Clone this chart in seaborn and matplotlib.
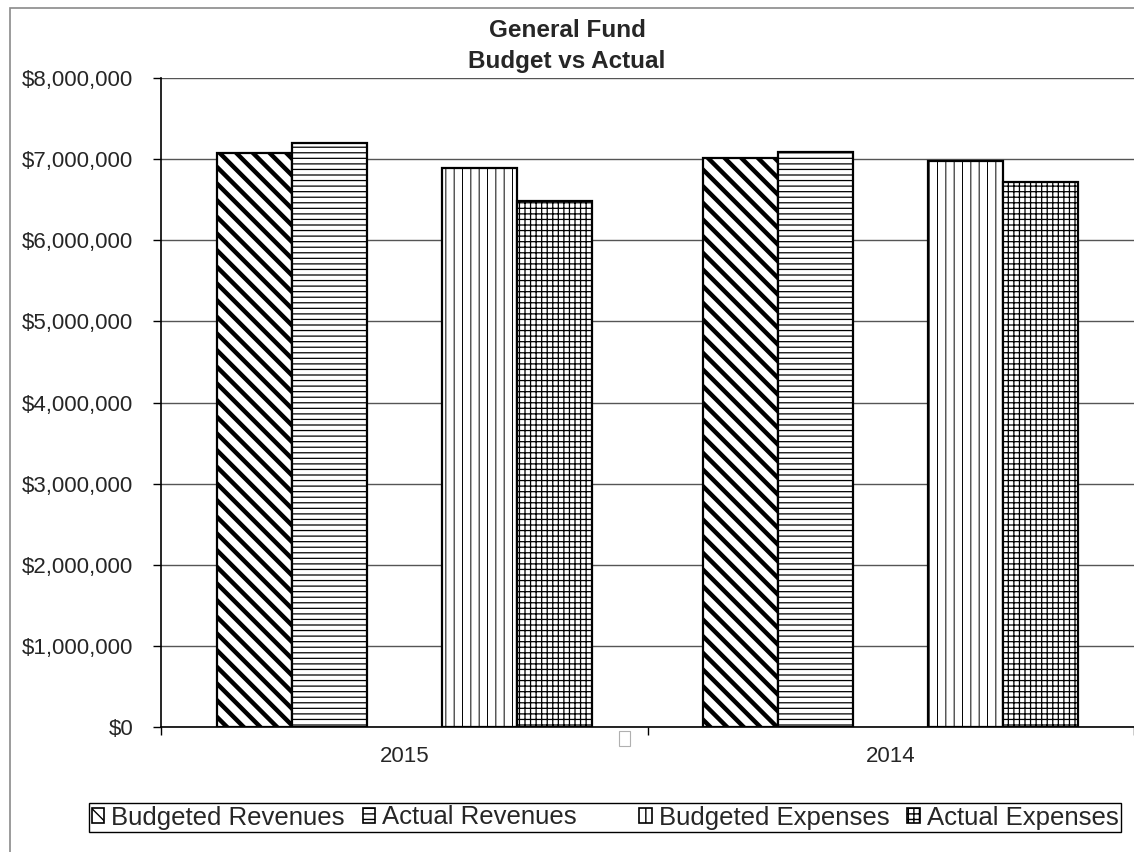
import matplotlib
matplotlib.use("Agg")
import matplotlib.pyplot as plt
import matplotlib.patches as mpatches
from matplotlib.ticker import FuncFormatter
import pandas as pd
import seaborn as sns

years = ["2015", "2014"]
series_names = ["Budgeted Revenues", "Actual Revenues", " ", "Budgeted Expenses", "Actual Expenses"]
budgeted_revenues = [7080000, 7010000]
actual_revenues = [7195000, 7085000]
spacer = [0, 0]  # empty series in the workbook, only takes up a slot
budgeted_expenses = [6886000, 6980000]
actual_expenses = [6483000, 6720000]

hatches = ["\\\\", "---", None, "||", "+++"]
hatch_lw = [3.2, 0.9, 0.5, 0.7, 0.9]

sns.set_style("white")
plt.rcParams["font.family"] = ["Liberation Sans", "DejaVu Sans"]


def put_hatch(p, h, lw):
    p.set_hatch(h)
    try:
        p.set_hatch_linewidth(lw)
    except AttributeError:
        plt.rcParams["hatch.linewidth"] = 1.0


df = pd.DataFrame({
    "year": years * 5,
    "series": [s for s in series_names for _ in years],
    "value": budgeted_revenues + actual_revenues + spacer + budgeted_expenses + actual_expenses,
})

fig = plt.figure(figsize=(11.34, 8.52), dpi=100)
ax = fig.add_axes([161 / 1134, 1 - 727 / 852, 973 / 1134, 649 / 852])

sns.barplot(data=df, x="year", y="value", hue="series", order=years, hue_order=series_names,
            palette=["white"] * 5, saturation=1, edgecolor="black", linewidth=1.6,
            width=0.771, errorbar=None, legend=False, ax=ax, zorder=3)

for i, cont in enumerate(ax.containers):
    for p in cont:
        if hatches[i] is None:
            p.set_visible(False)
        else:
            put_hatch(p, hatches[i], hatch_lw[i])

ax.set_ylim(0, 8000000)
ax.set_yticks(range(0, 8000001, 1000000))
ax.yaxis.set_major_formatter(FuncFormatter(lambda v, pos: f"${v:,.0f}"))
ax.yaxis.grid(True, color="#555555", lw=1)
ax.set_axisbelow(True)
ax.tick_params(axis="y", length=5.8, width=1, color="black", labelsize=16, pad=14, left=True)

ax.set_xlim(-0.5, 1.475)
ax.set_xticks([0, 1])
ax.set_xticklabels(years)
ax.set_xticks([-0.5, 0.5, 1.5], minor=True)
ax.tick_params(axis="x", which="major", length=0, pad=14, labelsize=16)
ax.tick_params(axis="x", which="minor", length=6, width=1, color="black", bottom=True)
ax.set_xlabel("")
ax.set_ylabel("")

for s in ["top", "right"]:
    ax.spines[s].set_visible(False)
for s in ["left", "bottom"]:
    ax.spines[s].set_color("black")
    ax.spines[s].set_linewidth(1.2)

fig.text(0.5, 1 - 19 / 852, "General Fund\nBudget vs Actual", ha="center", va="top",
         fontsize=17.5, fontweight="bold", linespacing=1.45)

# chart area border (right and bottom edges are cut off in the source)
fig.add_artist(mpatches.Rectangle((10 / 1134, -0.05), 1.1, (1 - 8 / 852) + 0.05,
                                  transform=fig.transFigure, fill=False,
                                  edgecolor="#8a8a8a", lw=1.2))
# stray legend key left under the axis
fig.add_artist(mpatches.Rectangle((619 / 1134, 1 - 746 / 852), 11 / 1134, 15 / 852,
                                  transform=fig.transFigure, facecolor="white",
                                  edgecolor="#b0b0b0", lw=0.8))

handles = []
for i, name in enumerate(series_names):
    if hatches[i] is None:
        handles.append(mpatches.Patch(facecolor="none", edgecolor="none", label=name))
    else:
        hp = mpatches.Patch(facecolor="white", edgecolor="black", lw=1.2, label=name)
        put_hatch(hp, hatches[i], min(hatch_lw[i], 1.5))
        handles.append(hp)

leg = fig.legend(handles=handles, loc="center",
                 bbox_to_anchor=(89 / 1134, 1 - 835 / 852, 1032 / 1134, 35 / 852),
                 mode="expand", ncol=5, frameon=True, fancybox=False, edgecolor="black",
                 fontsize=18.5, handlelength=0.5, handleheight=0.5, handletextpad=0.25,
                 borderpad=0.1, borderaxespad=0, columnspacing=0.3, framealpha=1)
leg.get_frame().set_linewidth(1.0)

fig.savefig("out.png", dpi=100)
